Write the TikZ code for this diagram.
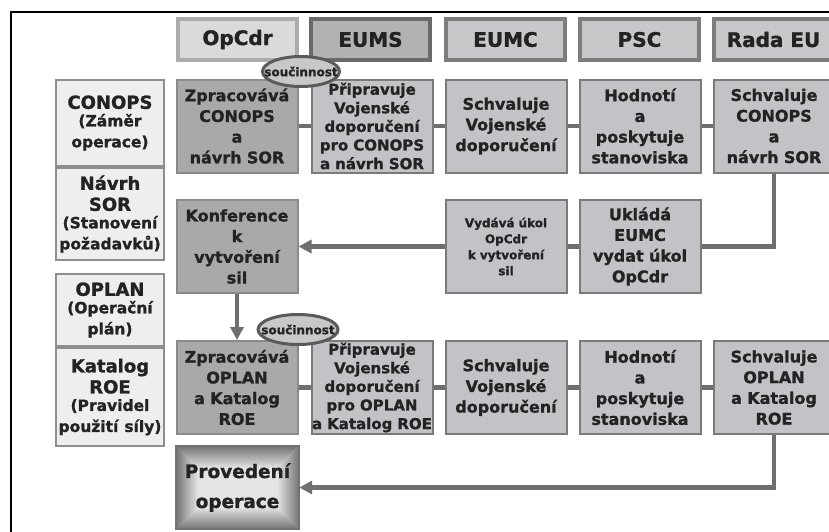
\documentclass[tikz,border=0pt]{standalone}
\usepackage{fontspec}
\setmainfont{DejaVu Sans}[BoldFeatures={FakeBold=1.2}]
\usetikzlibrary{arrows.meta,shapes.geometric}
\definecolor{txt}{HTML}{232323}
\definecolor{hdrfill}{HTML}{C8C8CB}
\definecolor{hdrline}{HTML}{7D7D7D}
\definecolor{opfill}{HTML}{DADADA}
\definecolor{opline}{HTML}{ABABAB}
\definecolor{eufill}{HTML}{B2B2B2}
\definecolor{euline}{HTML}{6A6A6A}
\definecolor{boxfill}{HTML}{C3C3C7}
\definecolor{boxline}{HTML}{7A7A7A}
\definecolor{darkfill}{HTML}{A9A9A9}
\definecolor{darkline}{HTML}{8A8A8A}
\definecolor{leftfill}{HTML}{EEEEEE}
\definecolor{leftline}{HTML}{8E8E8E}
\definecolor{conn}{HTML}{6F6F6F}
\definecolor{elfill}{HTML}{C8C8C8}
\definecolor{elline}{HTML}{5A5A5A}
\definecolor{shdark}{HTML}{727272}
\definecolor{shlight}{HTML}{E4E4E4}
\tikzset{
  hdr/.style={draw=hdrline, fill=hdrfill, line width=4pt, minimum width=119pt, minimum height=41pt,
    inner sep=0pt, text=txt, font=\fontsize{20}{24}\selectfont\bfseries},
  hdrop/.style={hdr, draw=opline, fill=opfill},
  hdreu/.style={hdr, draw=euline, fill=eufill},
  stepbox/.style={draw=boxline, fill=boxfill, line width=2pt, minimum width=121pt, minimum height=93pt,
    inner sep=0pt, text width=121pt, align=center, text=txt, font=\fontsize{16}{20.7}\selectfont\bfseries},
  darkbox/.style={stepbox, draw=darkline, fill=darkfill},
  tightbox/.style={stepbox, font=\fontsize{15}{18.6}\selectfont\bfseries},
  smallbox/.style={stepbox, font=\fontsize{12}{16}\selectfont\bfseries},
  leftbox/.style={draw=leftline, fill=leftfill, line width=2pt, minimum width=106pt,
    inner sep=0pt, text width=108pt, align=center, text=txt, font=\fontsize{18}{21}\selectfont\bfseries},
  link/.style={draw=conn, line width=4.5pt},
  arrowlink/.style={link, -{Triangle[length=13pt,width=13pt]}},
  coop/.style={ellipse, draw=elline, fill=elfill, line width=3pt, inner sep=0pt,
    minimum width=77pt, minimum height=30pt, text=txt, font=\fontsize{12}{14}\selectfont\bfseries},
  bevel/.style={shading=axis, top color=shdark, bottom color=shlight}
}
\newcommand{\subt}[1]{{\fontsize{15.5}{17.5}\selectfont #1}}
\begin{document}
\begin{tikzpicture}[x=1pt,y=-1pt]
\useasboundingbox (0,0) rectangle (829,531);
\clip (0,0) rectangle (829,531);
\fill[white] (0,0) rectangle (829,531);
% frame
\draw[line width=2.5pt, black] (11,540) -- (11,12) -- (840,12);

% headers
\node[hdrop] (hOp)   at (237.5,39.5) {OpCdr};
\node[hdreu] (hEUMS) at (370.5,39.5) {EUMS};
\node[hdr]   (hEUMC) at (505.5,39.5) {EUMC};
\node[hdr]   (hPSC)  at (639.5,39.5) {PSC};
\node[hdr]   (hRada) at (773.5,39.5) {Rada EU};

% left column
\node[leftbox, minimum height=86pt] (lCon) at (110,123) {CONOPS\\\subt{(Záměr\\operace)}};
\node[leftbox, minimum height=92pt] (lSor) at (110,214) {Návrh\\SOR\\\subt{(Stanovení\\požadavků)}};
\node[leftbox, minimum height=72pt] (lOpl) at (110,310) {OPLAN\\\subt{(Operační\\plán)}};
\node[leftbox, minimum height=98pt] (lRoe) at (110,397) {Katalog\\ROE\\\subt{(Pravidel\\použití síly)}};

% row 1
\node[darkbox]  (a1) at (237,126) {Zpracovává\\CONOPS\\a\\návrh SOR};
\node[tightbox] (a2) at (372,126) {Připravuje\\Vojenské\\doporučení\\pro CONOPS\\a návrh SOR};
\node[stepbox]  (a3) at (506,126) {Schvaluje\\Vojenské\\doporučení};
\node[stepbox]  (a4) at (640,126) {Hodnotí\\a\\poskytuje\\stanoviska};
\node[stepbox]  (a5) at (774,126) {Schvaluje\\CONOPS\\a\\návrh SOR};

% row 2
\node[darkbox]  (b1) at (237,246.5) {Konference\\k\\vytvoření\\sil};
\node[smallbox] (b3) at (506,246.5) {Vydává úkol\\OpCdr\\k vytvoření\\sil};
\node[stepbox]  (b4) at (640,246.5) {Ukládá\\EUMC\\vydat úkol\\OpCdr};

% row 3
\node[darkbox]  (c1) at (237,387.5) {Zpracovává\\OPLAN\\a Katalog\\ROE};
\node[tightbox] (c2) at (372,387.5) {Připravuje\\Vojenské\\doporučení\\pro OPLAN\\a Katalog ROE};
\node[stepbox]  (c3) at (506,387.5) {Schvaluje\\Vojenské\\doporučení};
\node[stepbox]  (c4) at (640,387.5) {Hodnotí\\a\\poskytuje\\stanoviska};
\node[stepbox]  (c5) at (774,387.5) {Schvaluje\\OPLAN\\a Katalog\\ROE};

% execution box with bevel shading
\node[minimum width=123pt, minimum height=83pt, inner sep=0pt, fill=shlight] (prov) at (237.5,487.5) {};
\path[bevel] (prov.north west) -- (prov.north east) -- ([shift={(-22,22)}]prov.north east)
  -- ([shift={(22,22)}]prov.north west) -- cycle;
\path[bevel, top color=shlight, bottom color=shdark] (prov.south west) -- (prov.south east)
  -- ([shift={(-22,-22)}]prov.south east) -- ([shift={(22,-22)}]prov.south west) -- cycle;
\path[bevel, left color=shdark, right color=shlight] (prov.north west) -- ([shift={(22,22)}]prov.north west)
  -- ([shift={(22,-22)}]prov.south west) -- (prov.south west) -- cycle;
\path[bevel, left color=shlight, right color=shdark] (prov.north east) -- ([shift={(-22,22)}]prov.north east)
  -- ([shift={(-22,-22)}]prov.south east) -- (prov.south east) -- cycle;
\draw[draw=shdark, line width=2pt] (prov.north west) rectangle (prov.south east);
\node[align=center, text=txt, font=\fontsize{18.5}{30}\selectfont\bfseries] (provtext) at (prov.center) {Provedení\\operace};

% connectors row 1
\draw[link] (a1.east) -- (a2.west);
\draw[link] (a2.east) -- (a3.west);
\draw[link] (a3.east) -- (a4.west);
\draw[link] (a4.east) -- (a5.west);
% back to row 2
\draw[link] (a5.south) |- (b4.east);
\draw[link] (b4.west) -- (b3.east);
\draw[arrowlink] (b3.west) -- (b1.east);
\draw[arrowlink] (b1.south) -- (c1.north);
% connectors row 3
\draw[link] (c1.east) -- (c2.west);
\draw[link] (c2.east) -- (c3.west);
\draw[link] (c3.east) -- (c4.west);
\draw[link] (c4.east) -- (c5.west);
\draw[arrowlink] (c5.south) |- (prov.east);

% cooperation ellipses
\node[coop] (e1) at (301,71.5) {\makebox[30pt]{součinnost}};
\node[coop, minimum width=80pt] (e2) at (298,329.5) {\makebox[30pt]{součinnost}};
\end{tikzpicture}
\end{document}
